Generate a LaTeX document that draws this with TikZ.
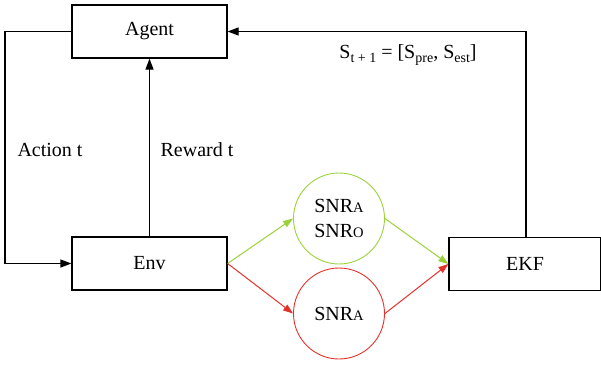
\documentclass[tikz,border=0pt]{standalone}
\usepackage{fontspec}
\setmainfont{Liberation Serif}
\usetikzlibrary{arrows.meta}
\definecolor{okgreen}{HTML}{9BD23C}
\definecolor{badred}{HTML}{E4322B}
\newcommand\lowsub[1]{\raisebox{-0.45ex}{\fontsize{14}{14}\selectfont #1}}
\newcommand\minicap[1]{{\fontsize{14.5}{14.5}\selectfont #1}}
\begin{document}
\begin{tikzpicture}[x=1pt,y=-1pt,
  every node/.style={font=\fontsize{20}{22}\selectfont},
  blockbox/.style={draw, line width=1.2pt, minimum width=155pt, minimum height=53pt, inner sep=0pt},
  snrcircle/.style={draw, circle, line width=0.9pt, minimum size=91pt, inner sep=0pt, align=center,
    font=\fontsize{20}{25}\selectfont},
  wire/.style={line width=1.2pt, -{Triangle[length=11pt,width=8pt]}},
  greenwire/.style={okgreen, line width=1pt, -{Triangle[length=10pt,width=7pt]}},
  redwire/.style={badred, line width=1pt, -{Triangle[length=10pt,width=7pt]}},
  lbl/.style={inner sep=0pt}]
\useasboundingbox (0,0) rectangle (601,364);

\node[blockbox] (agent) at (149.5,31.5) {Agent};
\node[blockbox] (env) at (149.5,263.5) {Env};
\node[blockbox, minimum width=152pt] (ekf) at (525,264) {EKF};
\node[snrcircle, draw=okgreen] (good) at (339,218.5) {SNR\minicap{A}\\SNR\minicap{O}};
\node[snrcircle, draw=badred] (bad) at (339,313.5) {SNR\minicap{A}};

\coordinate (lcorner) at (5,31.5);
\coordinate (lbottom) at (5,263.5);
\coordinate (rcorner) at (526,31.5);

% action loop from the agent down into the environment
\draw[wire] (agent.west) -- (lcorner) -- (lbottom) -- (env.west);
% reward back up to the agent
\draw[wire] (env.north) -- (agent.south);
% state estimate from the filter back to the agent
\draw[wire] (ekf.north -| rcorner) -- (rcorner) -- (agent.east);

\draw[greenwire] (env.east) -- (good.west);
\draw[greenwire] (good.east) -- (ekf.west);
\draw[redwire] (env.east) -- (bad.west);
\draw[redwire] (bad.east) -- (ekf.west);

\node[lbl] (actlbl) at (50,150) {Action t};
\node[lbl] (rewlbl) at (197,150) {Reward t};
\node[lbl] (statelbl) at (408,55) {S\lowsub{t + 1} = [S\lowsub{pre}, S\lowsub{est}]};
\end{tikzpicture}
\end{document}
